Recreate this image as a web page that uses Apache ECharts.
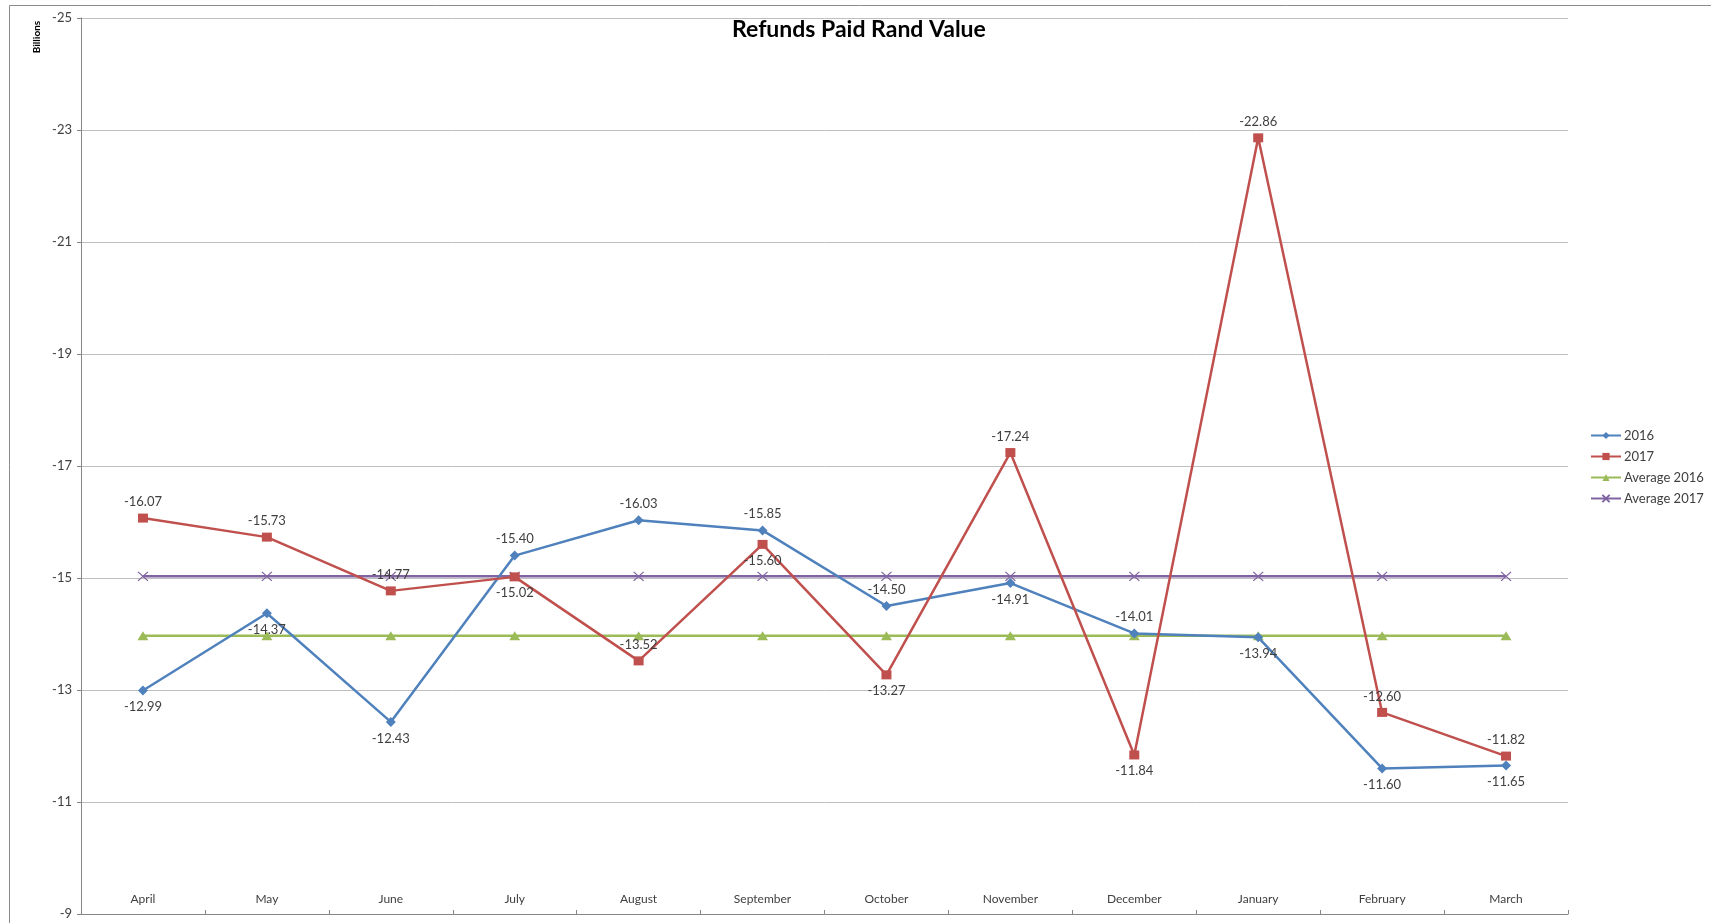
<!DOCTYPE html>
<html>
<head>
<meta charset="utf-8">
<script src="https://cdn.jsdelivr.net/npm/echarts@6/dist/echarts.min.js"></script>
<style>
  html, body { margin: 0; padding: 0; background: #fff; }
  #chart { width: 1711px; height: 923px; }
</style>
</head>
<body>
<div id="chart"></div>
<script>
const months = ['April', 'May', 'June', 'July', 'August', 'September', 'October', 'November', 'December', 'January', 'February', 'March'];
const values2016 = [-12.99, -14.37, -12.43, -15.40, -16.03, -15.85, -14.50, -14.91, -14.01, -13.94, -11.60, -11.65];
const values2017 = [-16.07, -15.73, -14.77, -15.02, -13.52, -15.60, -13.27, -17.24, -11.84, -22.86, -12.60, -11.82];
const avg2016 = [-13.97, -13.97, -13.97, -13.97, -13.97, -13.97, -13.97, -13.97, -13.97, -13.97, -13.97, -13.97];
const avg2017 = [-15.03, -15.03, -15.03, -15.03, -15.03, -15.03, -15.03, -15.03, -15.03, -15.03, -15.03, -15.03];
const yTicks = [-25, -23, -21, -19, -17, -15, -13, -11, -9];

// where each data label sits (screen side), as in the original
const labelSide2016 = ['bottom', 'bottom', 'bottom', 'top', 'top', 'top', 'top', 'bottom', 'top', 'bottom', 'bottom', 'bottom'];
const labelSide2017 = ['top', 'top', 'top', 'bottom', 'top', 'bottom', 'bottom', 'top', 'bottom', 'top', 'top', 'top'];

const withLabels = (vals, sides) => vals.map((v, i) => ({
  value: v,
  label: { position: sides[i] }
}));

const chart = echarts.init(document.getElementById('chart'));

const labelStyle = {
  show: true,
  distance: 5,
  fontSize: 13,
  color: '#404040',
  formatter: p => p.value.toFixed(2)
};

const option = {
  animation: false,
  textStyle: { fontFamily: 'Lato' },
  title: {
    text: 'Refunds Paid Rand Value',
    left: 727,
    top: 13,
    textStyle: { fontSize: 23, fontWeight: 'bold', color: '#000', fontFamily: 'Lato' }
  },
  legend: {
    orient: 'vertical',
    left: 1585,
    top: 424,
    itemWidth: 30,
    itemHeight: 9,
    itemGap: 8,
    textStyle: { fontSize: 13, color: '#404040', padding: [0, 0, 0, -2] },
    data: ['2016', '2017', 'Average 2016', 'Average 2017']
  },
  graphic: [
    {
      type: 'rect',
      shape: { x: 9.5, y: 5.5, width: 1720, height: 940 },
      style: { fill: 'none', stroke: '#8c8c8c', lineWidth: 1 },
      silent: true
    },
    {
      type: 'text',
      x: 37,
      y: 37,
      rotation: Math.PI / 2,
      style: {
        text: 'Billions',
        fontSize: 10,
        fontWeight: 'bold',
        fontFamily: 'Lato',
        fill: '#000',
        textAlign: 'center',
        textVerticalAlign: 'middle'
      }
    }
  ],
  grid: { left: 81, right: 143, top: 18, bottom: 9, containLabel: false },
  xAxis: {
    type: 'category',
    data: months,
    boundaryGap: true,
    axisLine: { lineStyle: { color: '#868686' } },
    axisTick: { show: true, inside: true, length: 4, lineStyle: { color: '#868686' } },
    axisLabel: { inside: true, margin: 9, fontSize: 12, color: '#404040' }
  },
  yAxis: {
    type: 'value',
    min: -25,
    max: -9,
    inverse: true,
    axisLine: { show: true, lineStyle: { color: '#868686' } },
    axisTick: { show: true, length: 4, customValues: yTicks, lineStyle: { color: '#868686' } },
    axisLabel: { margin: 9, fontSize: 13, color: '#404040', customValues: yTicks },
    splitLine: { show: true, lineStyle: { color: '#bfbfbf', width: 1 } }
  },
  series: [
    {
      name: '2016',
      type: 'line',
      data: withLabels(values2016, labelSide2016),
      symbol: 'diamond',
      symbolSize: [10, 10],
      color: '#4F81BD',
      lineStyle: { width: 2.5, color: '#4F81BD' },
      label: labelStyle,
      z: 4
    },
    {
      name: '2017',
      type: 'line',
      data: withLabels(values2017, labelSide2017),
      symbol: 'rect',
      symbolSize: [10, 9],
      color: '#C0504D',
      lineStyle: { width: 2.5, color: '#C0504D' },
      label: labelStyle,
      z: 5
    },
    {
      name: 'Average 2016',
      type: 'line',
      data: avg2016,
      symbol: 'triangle',
      symbolSize: [11, 9],
      color: '#9BBB59',
      lineStyle: { width: 2.5, color: '#9BBB59' },
      z: 2
    },
    {
      name: 'Average 2017',
      type: 'line',
      data: avg2017,
      symbol: 'path://M0,0L10,10M10,0L0,10',
      symbolSize: [10, 9],
      color: '#8064A2',
      itemStyle: { color: '#8064A2', borderColor: '#8064A2', borderWidth: 1.2 },
      lineStyle: { width: 2.5, color: '#8064A2' },
      z: 3
    }
  ]
};

option && chart.setOption(option);
</script>
</body>
</html>
